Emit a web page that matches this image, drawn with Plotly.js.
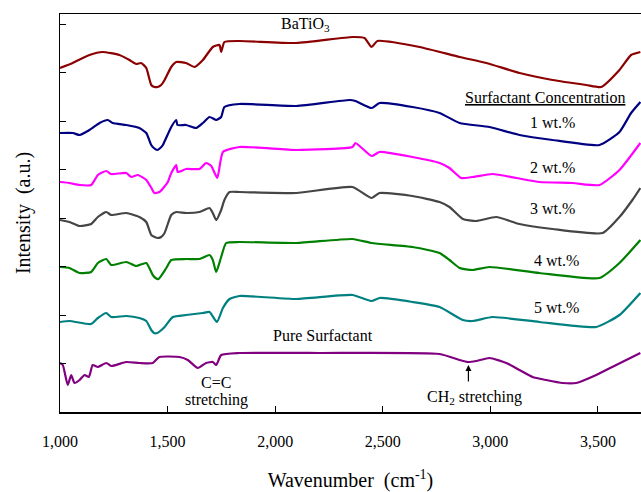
<!DOCTYPE html>
<html>
<head>
<meta charset="utf-8">
<script src="https://cdn.plot.ly/plotly-3.0.1.min.js"></script>
<style>html,body{margin:0;padding:0;background:#fff;}#chart{width:641px;height:492px;}</style>
</head>
<body>
<div id="chart"></div>
<script>
// Wavenumber (cm-1) and intensity (a.u.) for each spectrum
var wnBaTiO3 = [1000,1059,1137,1198,1276,1323,1354,1377,1401,1424,1439,1454,1470,1486,1517,1540,1586,1625,1664,1710,1741,1749,1764,1834,2098,2359,2415,2448,2475,2671,2857,2981,3136,3289,3445,3515,3600,3654,3697];
var intBaTiO3 = [344,349,357,360,357,352,348,349,344,327,325,325,327,332,345,350,349,345,352,365,367,360,370,371,369,375,374,365,371,365,355,349,339,332,327,325,342,357,360];

var wn1 = [1000,1060,1091,1137,1184,1222,1245,1308,1369,1401,1424,1436,1452,1466,1478,1517,1540,1546,1586,1633,1664,1695,1726,1749,1764,1834,2098,2345,2373,2448,2485,2638,2764,2857,2996,3135,3289,3507,3600,3654,3697];
var int1 = [279,279,277,282,289,292,289,287,284,279,267,264,262,264,267,285,292,287,287,284,289,295,292,295,305,308,306,312,311,304,309,305,299,289,285,277,272,267,280,299,310];

var wn2 = [1000,1044,1091,1145,1176,1215,1238,1308,1331,1362,1401,1425,1439,1462,1480,1501,1517,1540,1547,1586,1648,1679,1703,1731,1757,1834,2098,2359,2373,2448,2485,2638,2764,2810,2864,2917,3010,3120,3228,3382,3507,3600,3697];
var int2 = [230,229,227,227,237,241,238,239,235,237,232,224,219,220,224,230,239,247,240,243,243,249,246,234,260,265,262,265,269,256,260,255,249,244,234,235,238,234,230,229,227,242,269];

var wn3 = [1000,1044,1091,1145,1176,1215,1238,1308,1369,1401,1424,1440,1454,1470,1486,1517,1540,1586,1648,1695,1710,1726,1749,1764,1788,1834,2098,2359,2448,2485,2638,2764,2810,2872,2934,3027,3135,3289,3522,3600,3660,3697];
var int3 = [192,190,186,188,195,200,197,199,195,190,177,175,174,175,179,197,200,199,200,204,199,192,202,212,220,220,219,225,214,219,216,210,205,193,191,195,188,183,179,195,212,224];

var wn4 = [1000,1044,1091,1145,1176,1215,1238,1308,1354,1401,1431,1444,1458,1494,1517,1586,1648,1695,1710,1726,1749,1772,1834,2098,2359,2448,2638,2764,2810,2857,2917,2996,3228,3507,3600,3697];
var int4 = [145,144,139,140,149,153,147,150,146,149,137,134,133,144,152,153,153,157,152,140,155,169,170,169,173,169,165,159,152,144,142,145,139,134,149,172];

var wn5 = [1000,1044,1145,1176,1215,1238,1308,1369,1401,1424,1437,1452,1466,1486,1524,1586,1664,1695,1729,1757,1788,1834,2098,2359,2448,2485,2638,2764,2872,2917,3010,3228,3492,3600,3697];
var int5 = [90,91,88,94,99,95,96,94,91,82,79,79,81,85,95,97,99,100,90,104,113,116,113,117,111,114,110,105,92,91,95,90,85,97,119];

var wnPure = [1000,1013,1036,1052,1067,1091,1114,1134,1152,1176,1215,1238,1308,1369,1431,1462,1555,1594,1640,1679,1710,1726,1749,1834,2206,2764,2857,2895,2934,2996,3074,3135,3196,3259,3335,3399,3492,3538,3697];
var intPure = [49,47,27,37,29,32,37,35,47,45,49,46,50,49,49,55,55,52,44,49,50,47,57,59,59,58,52,50,51,54,49,42,35,32,29,29,37,42,59];

var xTicks = [1000,1500,2000,2500,3000,3500];

var series = [
  {name:'BaTiO3', x:wnBaTiO3, y:intBaTiO3, color:'#8B0000'},
  {name:'1 wt.%', x:wn1, y:int1, color:'#000080'},
  {name:'2 wt.%', x:wn2, y:int2, color:'#FF00FF'},
  {name:'3 wt.%', x:wn3, y:int3, color:'#454545'},
  {name:'4 wt.%', x:wn4, y:int4, color:'#008000'},
  {name:'5 wt.%', x:wn5, y:int5, color:'#008080'},
  {name:'Pure Surfactant', x:wnPure, y:intPure, color:'#800080'}
];

var traces = series.map(function(s){
  return {type:'scatter', mode:'lines', name:s.name, x:s.x, y:s.y,
          line:{color:s.color, width:2.2, shape:'spline', smoothing:0.5}, hoverinfo:'x+y'};
});

var F = 'Liberation Serif, Times New Roman, serif';
var txt = function(x,y,t){ return {x:x,y:y,xref:'x',yref:'y',text:t,showarrow:false,
  font:{family:F,size:16,color:'#000'},xanchor:'center',yanchor:'middle'}; };

var annotations = [
  txt(2141,388,'BaTiO<sub>3</sub>'),
  txt(3256,315,'<u>Surfactant Concentration</u>'),
  txt(3289,290,'1 wt.%'),
  txt(3289,245,'2 wt.%'),
  txt(3289,204,'3 wt.%'),
  txt(3307,152,'4 wt.%'),
  txt(3307,105,'5 wt.%'),
  txt(2224,77,'Pure Surfactant'),
  txt(1727,30,'C=C'),
  txt(1727,12,'stretching'),
  txt(2928,15,'CH<sub>2</sub> stretching'),
  {x:2898,y:47,ax:2898,ay:29,xref:'x',yref:'y',axref:'x',ayref:'y',text:'',
   showarrow:true,arrowhead:2,arrowsize:1,arrowwidth:1.2,arrowcolor:'#000'}
];

var layout = {
  width:641, height:492,
  margin:{l:60,r:0,t:14,b:80,pad:0},
  paper_bgcolor:'#fff', plot_bgcolor:'#fff',
  showlegend:false,
  font:{family:F,size:16,color:'#000'},
  xaxis:{range:[1000,3700], tickvals:xTicks, tickformat:',d', ticks:'inside', ticklen:6,
         tickwidth:1, tickcolor:'#000', showline:true, linecolor:'#000', linewidth:1.5,
         mirror:true, showgrid:false, zeroline:false, ticklabelstandoff:14,
         tickfont:{family:F,size:16,color:'#000'},
         title:{text:'Wavenumber\u00a0\u00a0(cm<sup>-1</sup>)', font:{family:F,size:20,color:'#000'}, standoff:29}},
  yaxis:{range:[0,398], tick0:0, dtick:48.5, ticks:'inside', ticklen:6, tickwidth:1,
         tickcolor:'#000', showticklabels:false, showline:true, linecolor:'#000', linewidth:1.5,
         showgrid:false, zeroline:false,
         title:{text:'Intensity\u00a0\u00a0(a.u.)', font:{family:F,size:20,color:'#000'}, standoff:22}},
  annotations:annotations
};

Plotly.newPlot('chart', traces, layout, {displayModeBar:false, staticPlot:true});
</script>
</body>
</html>
